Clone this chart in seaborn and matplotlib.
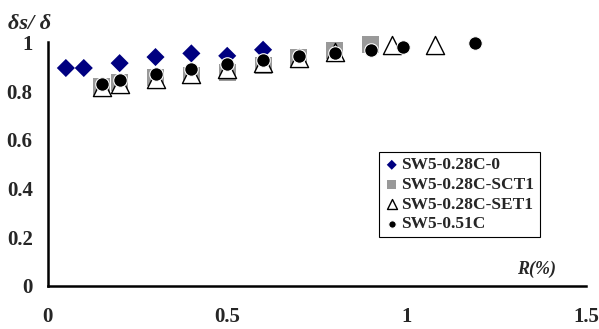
import numpy as np
import pandas as pd
import seaborn as sns
import matplotlib.pyplot as plt

# data
x_c0 = [0.05, 0.1, 0.2, 0.3, 0.4, 0.5, 0.6]
y_c0 = [0.895, 0.895, 0.915, 0.94, 0.955, 0.945, 0.97]

x_sct1 = [0.15, 0.2, 0.3, 0.4, 0.5, 0.6, 0.7, 0.8, 0.9]
y_sct1 = [0.82, 0.835, 0.855, 0.865, 0.875, 0.905, 0.94, 0.965, 0.99]

x_set1 = [0.15, 0.2, 0.3, 0.4, 0.5, 0.6, 0.7, 0.8, 0.96, 1.08]
y_set1 = [0.815, 0.83, 0.85, 0.87, 0.89, 0.915, 0.935, 0.96, 0.99, 0.99]

x_051 = [0.15, 0.2, 0.3, 0.4, 0.5, 0.6, 0.7, 0.8, 0.9, 0.99, 1.19]
y_051 = [0.83, 0.845, 0.87, 0.892, 0.91, 0.928, 0.945, 0.958, 0.97, 0.983, 0.997]

labels = ["SW5-0.28C-0", "SW5-0.28C-SCT1", "SW5-0.28C-SET1", "SW5-0.51C"]

sns.set_style("white")
plt.rcParams['font.family'] = ['Liberation Serif', 'DejaVu Serif']
plt.rcParams['font.weight'] = 'bold'

fig = plt.figure(figsize=(5.99, 3.29), dpi=100)
ax = fig.add_axes([0.080, 0.131, 0.898, 0.740])

sns.scatterplot(x=x_c0, y=y_c0, ax=ax, marker='D', s=85, color='#000080',
                edgecolor='none', label=labels[0], clip_on=False)
sns.scatterplot(x=x_sct1, y=y_sct1, ax=ax, marker='s', s=150, color='#999999',
                edgecolor='none', label=labels[1], clip_on=False)
sns.scatterplot(x=x_set1, y=y_set1, ax=ax, marker='^', s=170, color='white',
                edgecolor='black', linewidth=1, label=labels[2], clip_on=False)
sns.scatterplot(x=x_051, y=y_051, ax=ax, marker='o', s=95, color='black',
                edgecolor='white', linewidth=0.8, label=labels[3], clip_on=False)

ax.set_xlim(0, 1.5)
ax.set_ylim(0, 1)
ax.set_xticks([0, 0.5, 1, 1.5])
ax.set_xticklabels(['0', '0.5', '1', '1.5'])
ax.set_yticks([0, 0.2, 0.4, 0.6, 0.8, 1])
ax.set_yticklabels(['0', '0.2', '0.4', '0.6', '0.8', '1'])
ax.tick_params(axis='both', direction='in', length=6, width=1.8, labelsize=15)
ax.tick_params(axis='x', pad=15)
ax.tick_params(axis='y', pad=11)
for lab in ax.get_xticklabels() + ax.get_yticklabels():
    lab.set_fontweight('bold')

sns.despine(ax=ax)
for sp in ['left', 'bottom']:
    ax.spines[sp].set_linewidth(1.8)
    ax.spines[sp].set_color('black')

ax.set_xlabel('')
ax.set_ylabel('')
fig.text(0.013, 0.912, 'δs/ δ', fontsize=16, fontstyle='italic', fontweight='bold')
ax.text(0.945, 0.05, 'R(%)', transform=ax.transAxes, fontsize=13,
        fontstyle='italic', fontweight='bold', ha='right')

leg = ax.legend(loc='upper left', bbox_to_anchor=(0.615, 0.55), borderaxespad=0,
                fancybox=False, edgecolor='black', framealpha=1, markerscale=0.55,
                handletextpad=0.1, handlelength=0.9, borderpad=0.3, labelspacing=0.2,
                prop={'size': 12.5, 'weight': 'bold'})
leg.get_frame().set_linewidth(0.8)

plt.savefig('out.png', dpi=100)
